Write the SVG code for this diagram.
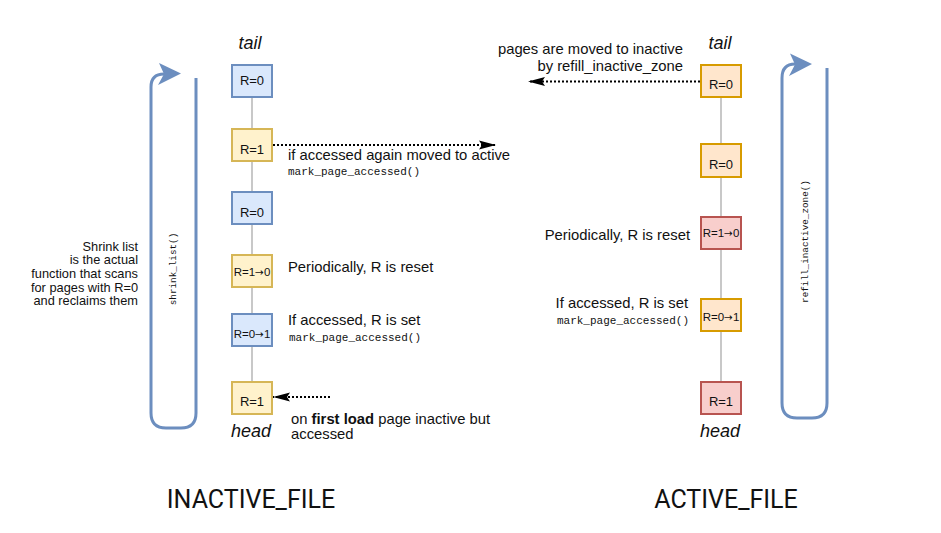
<svg xmlns="http://www.w3.org/2000/svg" width="941" height="533" viewBox="0 0 941 533">
<style>
  text { font-family: "Liberation Sans", "DejaVu Sans", sans-serif; fill: #111; }
  .box { stroke-width: 2; }
  .blue { fill: #dae8fc; stroke: #6c8ebf; }
  .yellow { fill: #fff2cc; stroke: #d6b656; }
  .orange { fill: #ffe6cc; stroke: #d79b00; }
  .red { fill: #f8cecc; stroke: #b85450; }
  .bt { font-size: 13px; text-anchor: middle; }
  .bt2 { font-size: 11.5px; text-anchor: middle; }
  .arr { font-family: "DejaVu Sans", sans-serif; font-size: 10.5px; }
  .ann { font-size: 14.8px; }
  .mono { font-family: "Liberation Mono", "DejaVu Sans Mono", monospace; font-size: 11px; }
  .rot { font-family: "Liberation Mono", "DejaVu Sans Mono", monospace; font-size: 9.3px; text-anchor: middle; dominant-baseline: central; }
  .th { font-size: 18px; font-style: italic; text-anchor: middle; }
  .title { font-family: Roboto, "Liberation Sans", sans-serif; font-size: 25px; text-anchor: middle; }
  .small { font-size: 12.8px; text-anchor: end; }
  .spine { stroke: #c8c8c8; stroke-width: 2; fill: none; }
  .loop { stroke: #6c8ebf; stroke-width: 3; fill: none; }
  .dot { stroke: #000; stroke-width: 2; stroke-dasharray: 2 2; fill: none; }
</style>
<defs>
  <marker id="ah" markerUnits="userSpaceOnUse" markerWidth="18" markerHeight="10" refX="17" refY="5" orient="auto">
    <path d="M0,0.5 L17,5 L0,9.5 L3,5 Z" fill="#000"/>
  </marker>
</defs>

<g id="connectors">
  <line class="spine" x1="252" y1="97" x2="252" y2="382"/>
  <line class="spine" x1="721" y1="97" x2="721" y2="382"/>
  <path class="loop" d="M196,78 V413 Q196,428 181,428 H166 Q151,428 151,413 V87 Q151,74 164,74"/>
  <polygon points="181,73.5 159,63 164,74 158,85" fill="#6c8ebf"/>
  <path class="loop" d="M827,68 V403 Q827,418 812,418 H797 Q782,418 782,403 V78 Q782,64 795,64"/>
  <polygon points="812,64 790,53.5 795,64.5 789,76" fill="#6c8ebf"/>
  <line class="dot" x1="273" y1="145" x2="496" y2="145" marker-end="url(#ah)"/>
  <line class="dot" x1="330" y1="397" x2="273" y2="397" marker-end="url(#ah)"/>
  <line class="dot" x1="700" y1="81.5" x2="528" y2="81.5" marker-end="url(#ah)"/>
</g>

<g id="inactive-1"><rect class="box blue" x="232" y="65" width="40" height="32"/><text class="bt" x="252" y="85">R=0</text></g>
<g id="inactive-2"><rect class="box yellow" x="232" y="129" width="40" height="32"/><text class="bt" x="252" y="154">R=1</text></g>
<g id="inactive-3"><rect class="box blue" x="232" y="192" width="40" height="32"/><text class="bt" x="252" y="216.5">R=0</text></g>
<g id="inactive-4"><rect class="box yellow" x="232" y="255" width="40" height="32"/><text class="bt2" x="252" y="276">R=1<tspan class="arr">→</tspan>0</text></g>
<g id="inactive-5"><rect class="box blue" x="232" y="314" width="40" height="32"/><text class="bt2" x="252" y="337.5">R=0<tspan class="arr">→</tspan>1</text></g>
<g id="inactive-6"><rect class="box yellow" x="232" y="382" width="40" height="32"/><text class="bt" x="252" y="405.5">R=1</text></g>

<g id="active-1"><rect class="box orange" x="701" y="65" width="40" height="32"/><text class="bt" x="721" y="89">R=0</text></g>
<g id="active-2"><rect class="box orange" x="701" y="144" width="40" height="33"/><text class="bt" x="721" y="169">R=0</text></g>
<g id="active-3"><rect class="box red" x="701" y="217" width="40" height="32"/><text class="bt2" x="721" y="237">R=1<tspan class="arr">→</tspan>0</text></g>
<g id="active-4"><rect class="box orange" x="701" y="299" width="40" height="32"/><text class="bt2" x="721" y="321">R=0<tspan class="arr">→</tspan>1</text></g>
<g id="active-5"><rect class="box red" x="701" y="382" width="40" height="32"/><text class="bt" x="721" y="405.5">R=1</text></g>

<g id="labels">
  <text class="th" x="250" y="49">tail</text>
  <text class="th" x="251" y="436.5">head</text>
  <text class="th" x="720" y="49">tail</text>
  <text class="th" x="720" y="436.5">head</text>

  <text class="ann" x="288" y="160">if accessed again moved to active</text>
  <text class="mono" x="288" y="174.5">mark_page_accessed()</text>
  <text class="ann" x="288" y="271.5">Periodically, R is reset</text>
  <text class="ann" x="288" y="325">If accessed, R is set</text>
  <text class="mono" x="289" y="341">mark_page_accessed()</text>
  <text class="ann" x="291" y="423.5">on <tspan font-weight="bold">first load</tspan> page inactive but</text>
  <text class="ann" x="291" y="438.5">accessed</text>

  <text class="ann" x="683" y="54" text-anchor="end">pages are moved to inactive</text>
  <text class="ann" x="683" y="71" text-anchor="end">by refill_inactive_zone</text>
  <text class="ann" x="690" y="239.5" text-anchor="end">Periodically, R is reset</text>
  <text class="ann" x="688" y="308" text-anchor="end">If accessed, R is set</text>
  <text class="mono" x="689" y="323.5" text-anchor="end">mark_page_accessed()</text>

  <text class="small" x="138" y="250.5">Shrink list</text>
  <text class="small" x="138" y="264.2">is the actual</text>
  <text class="small" x="138" y="277.9">function that scans</text>
  <text class="small" x="138" y="291.6">for pages with R=0</text>
  <text class="small" x="138" y="305.3">and reclaims them</text>

  <text class="rot" transform="translate(173,269) rotate(-90)">shrink_list()</text>
  <text class="rot" transform="translate(805,241.5) rotate(-90)">refill_inactive_zone()</text>

  <text class="title" x="251" y="508">INACTIVE_FILE</text>
  <text class="title" x="726" y="508">ACTIVE_FILE</text>
</g>
</svg>
